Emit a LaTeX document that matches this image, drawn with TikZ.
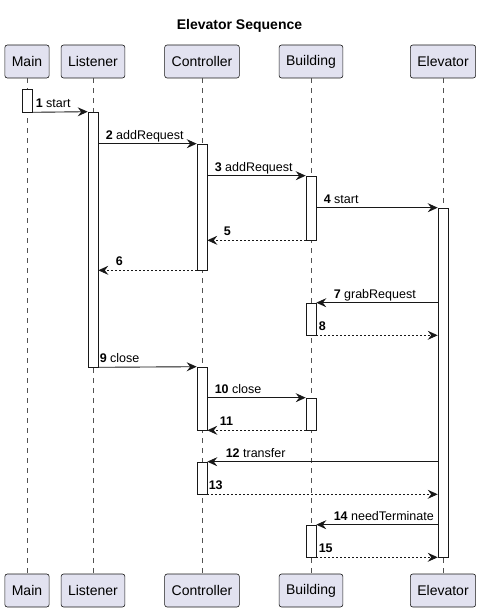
\documentclass[tikz,border=0pt]{standalone}
\usepackage{fontspec}
\setmainfont{Liberation Sans}
\usetikzlibrary{arrows.meta}
\usetikzlibrary{positioning}

\definecolor{umlline}{HTML}{181818}
\definecolor{umlpart}{HTML}{E2E2F0}

\begin{document}
\begin{tikzpicture}[x=1pt,y=-1pt,
  part/.style={draw=umlline, fill=umlpart, rounded corners=2.5pt,
      line width=0.6pt, minimum height=33pt, inner xsep=7pt,
      font=\fontsize{14}{16}\selectfont},
  act/.style={draw=umlline, fill=white, line width=0.6pt,
      minimum width=10pt, inner sep=0pt},
  life/.style={draw=umlline!75, line width=0.5pt, dash pattern=on 5pt off 5pt},
  msg/.style={draw=umlline, line width=0.9pt,
      -{Stealth[length=10pt,width=9pt,inset=3.5pt]}},
  ret/.style={msg, dash pattern=on 2pt off 2pt},
  lbl/.style={anchor=base west, inner sep=0pt, yshift=4.5pt,
      font=\fontsize{12.5}{14}\selectfont, text=black}]
  \useasboundingbox (0,0) rectangle (481,612);

  \node[font=\bfseries\fontsize{14}{16}\selectfont] (title) at (239.5,26) {Elevator Sequence};

  % Participants, top and bottom
  \node[part] (p_main) at (27,61.5)  {Main};
  \node[part] (p_lis)  at (93,61.5)  {Listener};
  \node[part] (p_con)  at (202,61.5) {Controller};
  \node[part] (p_bld)  at (311,61.5) {Building};
  \node[part] (p_elv)  at (443,61.5) {Elevator};
  \node[part] (f_main) at (27,590.5)  {Main};
  \node[part] (f_lis)  at (93,590.5)  {Listener};
  \node[part] (f_con)  at (202,590.5) {Controller};
  \node[part] (f_bld)  at (311,590.5) {Building};
  \node[part] (f_elv)  at (443,590.5) {Elevator};

  \foreach \p in {main,lis,con,bld,elv}
    \draw[life] (p_\p.south) -- (f_\p.north);

  % Activations
  \node[act, minimum height=23pt]  (a_main) at (27,100.5)  {};
  \node[act, minimum height=255pt] (a_lis)  at (93,239.5)  {};
  \node[act, minimum height=126pt] (a_con1) at (202,207)   {};
  \node[act, minimum height=64pt]  (a_bld1) at (311,208)   {};
  \node[act, minimum height=349pt] (a_elv)  at (443,382.5) {};
  \node[act, minimum height=32pt]  (a_bld2) at (311,319)   {};
  \node[act, minimum height=63pt]  (a_con2) at (202,398.5) {};
  \node[act, minimum height=32pt]  (a_bld3) at (311,414)   {};
  \node[act, minimum height=32pt]  (a_con3) at (202,478)   {};
  \node[act, minimum height=32pt]  (a_bld4) at (311,541)   {};

  % Messages
  \path
    (a_main.south east) edge[msg] node[lbl, pos=0, xshift=3pt] {\textbf{1} start} (a_lis.north west)
    (a_lis.east |- a_con1.north) edge[msg] node[lbl, pos=0, xshift=7pt] {\textbf{2} addRequest} (a_con1.north west)
    (a_con1.east |- a_bld1.north) edge[msg] node[lbl, pos=0, xshift=7pt] {\textbf{3} addRequest} (a_bld1.north west)
    (a_bld1.east |- a_elv.north) edge[msg] node[lbl, pos=0, xshift=7pt] {\textbf{4} start} (a_elv.north west)
    (a_bld1.south west) edge[ret] node[lbl, pos=1, xshift=16pt] {\textbf{5}} (a_con1.east |- a_bld1.south)
    (a_con1.south west) edge[ret] node[lbl, pos=1, xshift=17pt] {\textbf{6}} (a_lis.east |- a_con1.south)
    (a_elv.west |- a_bld2.north) edge[msg] node[lbl, pos=1, xshift=17pt] {\textbf{7} grabRequest} (a_bld2.north east)
    (a_bld2.south east) edge[ret] node[lbl, pos=0, xshift=2pt] {\textbf{8}} (a_elv.west |- a_bld2.south)
    (a_lis.south east) edge[msg] node[lbl, pos=0, xshift=1pt] {\textbf{9} close} (a_con2.north west)
    (a_con2.east |- a_bld3.north) edge[msg] node[lbl, pos=0, xshift=7pt] {\textbf{10} close} (a_bld3.north west)
    (a_bld3.south west) edge[ret] node[lbl, pos=1, xshift=12pt] {\textbf{11}} (a_con2.south east)
    (a_elv.west |- a_con3.north) edge[msg] node[lbl, pos=1, xshift=18pt] {\textbf{12} transfer} (a_con3.north east)
    (a_con3.south east) edge[ret] node[lbl, pos=0, xshift=1pt] {\textbf{13}} (a_elv.west |- a_con3.south)
    (a_elv.west |- a_bld4.north) edge[msg] node[lbl, pos=1, xshift=17pt] {\textbf{14} needTerminate} (a_bld4.north east)
    (a_bld4.south east) edge[ret] node[lbl, pos=0, xshift=2pt] {\textbf{15}} (a_elv.south west)
    ;
\end{tikzpicture}
\end{document}
